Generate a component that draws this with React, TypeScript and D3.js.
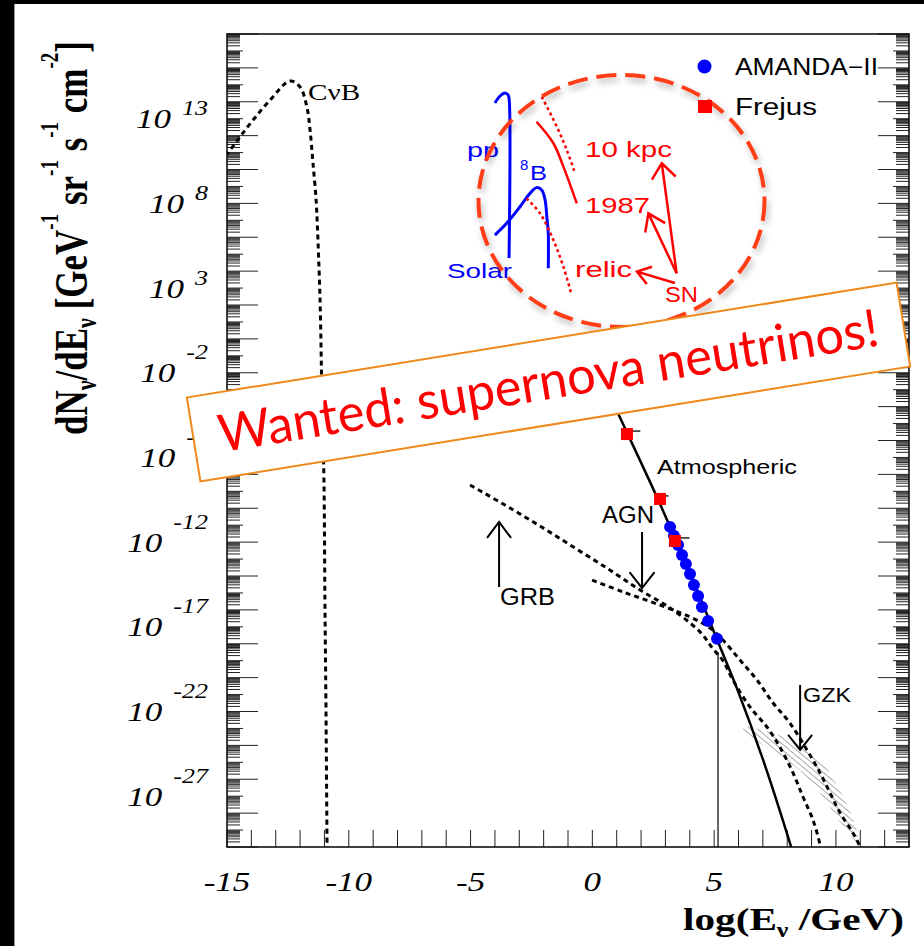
import React from 'react';
import * as d3 from 'd3';

const WIDTH = 924;
const HEIGHT = 946;
const PLOT = { left: 227, right: 909, top: 34, bottom: 847 };

const xDomain: [number, number] = [-15, 13];
const yExpDomain: [number, number] = [-30, 18];
const xTickLabels = [-15, -10, -5, 0, 5, 10];
const yLabelExponents = [13, 8, 3, -2, -7, -12, -17, -22, -27];

// Spectra as [log10(E/GeV), log10(dN/dE)]
const cnbSpectrum = [
  [-15.3, 10.4], [-14.96, 10.98], [-14.47, 11.92], [-13.93, 12.92], [-13.23, 14.1], [-12.41, 15.23],
  [-12.0, 14.87], [-11.72, 13.69], [-11.59, 12.33], [-11.47, 10.38], [-11.35, 8.38], [-11.3, 7.02],
  [-11.18, 2.3], [-11.1, -3.6], [-11.02, -8.33], [-10.98, -15.41], [-10.94, -21.3], [-10.89, -30.5],
];
const atmosphericSpectrum = [
  [0.4, -2.3], [1.05, -4.38], [2.65, -9.34], [4.13, -14.24], [5.16, -17.9], [5.94, -20.65],
  [7.01, -24.86], [8.11, -29.76], [8.2, -30.2],
];
const grbSpectrum = [
  [-5.02, -8.63], [-3.59, -9.81], [-2.15, -11.05], [-0.71, -12.35], [0.72, -13.65], [1.96, -14.83],
  [3.19, -15.89], [4.42, -17.3], [4.95, -18.3], [5.36, -19.0], [5.77, -20.14], [6.47, -21.73],
  [7.17, -22.92], [7.7, -24.1], [8.24, -25.63], [8.65, -27.05], [9.06, -28.41], [9.35, -29.88], [9.4, -30.3],
];
const agnSpectrum = [
  [-0.01, -14.24], [1.26, -14.94], [2.65, -15.65], [4.01, -16.42], [4.83, -17.07], [5.36, -17.78],
  [6.06, -18.96], [6.76, -20.14], [7.42, -21.5], [8.11, -22.68], [8.81, -24.27], [9.35, -25.63],
  [9.76, -26.81], [10.17, -27.99], [10.7, -29.17], [10.99, -30.0], [11.05, -30.3],
];
// [log10(E/GeV), lower log10 flux, upper log10 flux]
const gzkBand = [
  [6.2, -23.2, -22.86], [7.42, -24.39, -23.27], [8.5, -25.45, -23.98], [9.35, -26.81, -24.86],
  [10.1, -28.4, -26.5], [10.6, -29.3, -28.0], [10.9, -29.9, -29.2],
];
const amandaData = [
  [3.19, -11.1], [3.35, -11.63], [3.52, -12.17], [3.68, -12.76], [3.84, -13.29], [4.01, -13.88],
  [4.17, -14.53], [4.34, -15.18], [4.5, -15.83], [4.75, -16.65], [5.12, -17.71],
];
// [log10(E/GeV), log10 flux, upper energy error]
const frejusData = [
  [1.42, -5.62, 0.55], [2.78, -9.45, 0.35], [3.39, -11.93, 0.6],
];
const amandaEdge = { energy: 5.16, top: -18.5 };

// MeV-range sources shown in the highlighted region
const solarPP = [[-4.0, 13.93], [-3.79, 14.34], [-3.59, 14.52], [-3.46, 14.4], [-3.42, 14.2], [-3.42, 4.78]];
const solarB8 = [
  [-4.0, 6.13], [-3.52, 6.82], [-2.97, 7.8], [-2.56, 8.59], [-2.29, 8.93], [-2.08, 8.79],
  [-1.94, 8.2], [-1.87, 7.21], [-1.81, 6.23], [-1.81, 4.17],
];
const snRelic = [[-2.7, 8.3], [-2.15, 7.41], [-1.6, 5.84], [-1.19, 4.26], [-0.85, 2.59]];
const sn1987 = [[-2.29, 12.82], [-1.6, 11.55], [-1.19, 10.17], [-0.64, 8.0]];
const sn10kpc = [[-2.08, 14.3], [-1.46, 12.53], [-1.05, 11.15], [-0.71, 9.78]];

const SERIF = '"Liberation Serif", "DejaVu Serif", serif';
const SANS = '"Liberation Sans", Arial, sans-serif';
const RED = '#ff0000';
const BLUE = '#0000ff';

function arrow(x1: number, y1: number, x2: number, y2: number, len: number, half: number) {
  const dx = x2 - x1, dy = y2 - y1;
  const L = Math.hypot(dx, dy);
  const ux = dx / L, uy = dy / L;
  const nx = -uy, ny = ux;
  const bx = x2 - ux * len, by = y2 - uy * len;
  return `M${x1},${y1}L${x2},${y2}M${bx + nx * half},${by + ny * half}L${x2},${y2}L${bx - nx * half},${by - ny * half}`;
}

export default function App() {
  const x = d3.scaleLinear().domain(xDomain).range([PLOT.left, PLOT.right]);
  const yLog = d3.scaleLog().domain([10 ** yExpDomain[0], 10 ** yExpDomain[1]]).range([PLOT.bottom, PLOT.top]);
  const y = (e: number) => yLog(Math.pow(10, e));

  const smooth = d3.line<number[]>().x(d => x(d[0])).y(d => y(d[1])).curve(d3.curveCatmullRom.alpha(0.5));
  const band = d3.area<number[]>().x(d => x(d[0])).y0(d => y(d[1])).y1(d => y(d[2])).curve(d3.curveCatmullRom.alpha(0.5));

  // axis ticks
  let yTicksL = '';
  let yTicksR = '';
  for (let e = yExpDomain[0]; e <= yExpDomain[1]; e++) {
    for (let k = 1; k <= 9; k++) {
      const v = e + Math.log10(k);
      if (v > yExpDomain[1] + 1e-9) continue;
      const py = y(v);
      const len = k === 1 ? (e % 2 === 0 ? 31 : 16) : 13;
      yTicksL += `M${PLOT.left},${py}h${len}`;
      yTicksR += `M${PLOT.right},${py}h${-len}`;
    }
  }
  let xTicks = '';
  for (let v = xDomain[0]; v <= xDomain[1]; v++) {
    xTicks += `M${x(v)},${PLOT.bottom}v-17`;
  }

  const charW = (s: string, digit: number, minus: number) =>
    [...s].reduce((a, c) => a + (c === '-' ? minus : digit), 0);

  return (
    <svg width={WIDTH} height={HEIGHT} viewBox={`0 0 ${WIDTH} ${HEIGHT}`}
      style={{ position: 'absolute', left: 0, top: 0, background: '#fff' }}>
      <defs>
        <clipPath id="plotArea">
          <rect x={PLOT.left} y={PLOT.top} width={PLOT.right - PLOT.left} height={PLOT.bottom - PLOT.top} />
        </clipPath>
        <pattern id="gzkHatch" width={4.5} height={4.5} patternUnits="userSpaceOnUse" patternTransform="rotate(-50)">
          <line x1={0} y1={0} x2={0} y2={4.5} stroke="#8a8a8a" strokeWidth={1.4} />
        </pattern>
        <filter id="ringShadow" x="-20%" y="-20%" width="140%" height="140%">
          <feDropShadow dx={2} dy={4} stdDeviation={3} floodColor="#000" floodOpacity={0.3} />
        </filter>
      </defs>

      <rect x={0} y={0} width={WIDTH} height={HEIGHT} fill="#fff" />
      <rect x={0} y={0} width={WIDTH} height={4} fill="#000" />
      <rect x={0} y={0} width={14} height={HEIGHT} fill="#000" />
      <rect x={14} y={4} width={1} height={HEIGHT} fill="#999" />

      {/* axes */}
      <path d={yTicksL} stroke="#222" strokeWidth={1} fill="none" />
      <path d={yTicksR} stroke="#222" strokeWidth={1} fill="none" />
      <path d={xTicks} stroke="#222" strokeWidth={1} fill="none" />
      <rect x={PLOT.left} y={PLOT.top} width={PLOT.right - PLOT.left} height={PLOT.bottom - PLOT.top}
        fill="none" stroke="#111" strokeWidth={1.6} />

      {xTickLabels.map(v => {
        const s = String(v);
        return (
          <text key={v} x={x(v)} y={891} textAnchor="middle" fontFamily={SERIF} fontStyle="italic" fontSize={27}
            textLength={charW(s, 17.5, 11.7)} lengthAdjust="spacingAndGlyphs">{s}</text>
        );
      })}
      {yLabelExponents.map(e => {
        const ty = y(e);
        const s = String(e);
        const expW = charW(s, 13, 8.7);
        const expRight = 208;
        const raise = e > 0 ? 13 : 23;
        return (
          <g key={e} fontFamily={SERIF} fontStyle="italic">
            <text x={expRight - expW - 11} y={ty + 9.5} textAnchor="end" fontSize={27}
              textLength={35} lengthAdjust="spacingAndGlyphs">10</text>
            <text x={expRight} y={ty + 9.5 - raise} textAnchor="end" fontSize={20}
              textLength={expW} lengthAdjust="spacingAndGlyphs">{s}</text>
          </g>
        );
      })}

      {/* axis titles */}
      <text transform="translate(87,238) rotate(-90) scale(1,1.32)" textAnchor="middle" fontFamily={SERIF}
        fontWeight="bold" fontSize={35}>
        dN<tspan dy={7} fontSize={22}>ν</tspan><tspan dy={-7}>/dE</tspan><tspan dy={7} fontSize={22}>ν</tspan>
        <tspan dy={-7}> [GeV</tspan><tspan dy={-22} fontSize={19}>-1</tspan><tspan dy={22}> sr</tspan>
        <tspan dy={-22} fontSize={19}>-1</tspan><tspan dy={22}> s</tspan><tspan dy={-22} fontSize={19}>-1</tspan>
        <tspan dy={22}> cm</tspan><tspan dy={-22} fontSize={19}>-2</tspan><tspan dy={22}>]</tspan>
      </text>
      <text x={904} y={930} textAnchor="end" fontFamily={SERIF} fontWeight="bold" fontSize={32}
        textLength={221} lengthAdjust="spacingAndGlyphs">
        log(E<tspan dy={7} fontSize={20}>ν</tspan><tspan dy={-7}> /GeV)</tspan>
      </text>

      {/* spectra */}
      <g clipPath="url(#plotArea)" fill="none">
        <path d={band(gzkBand) ?? ''} fill="url(#gzkHatch)" stroke="none" />
        <path d={smooth(cnbSpectrum) ?? ''} stroke="#000" strokeWidth={3} strokeDasharray="5 4" />
        <path d={smooth(grbSpectrum) ?? ''} stroke="#000" strokeWidth={3} strokeDasharray="5 4" />
        <path d={smooth(agnSpectrum) ?? ''} stroke="#000" strokeWidth={3} strokeDasharray="5 4" />
        <path d={smooth(atmosphericSpectrum) ?? ''} stroke="#000" strokeWidth={2.5} />
        <line x1={x(amandaEdge.energy)} x2={x(amandaEdge.energy)} y1={y(amandaEdge.top)} y2={PLOT.bottom}
          stroke="#000" strokeWidth={1.2} />
      </g>

      {amandaData.map((d, i) => (
        <circle key={i} cx={x(d[0])} cy={y(d[1])} r={6} fill={BLUE} />
      ))}
      {frejusData.map((d, i) => (
        <g key={i}>
          <line x1={x(d[0])} x2={x(d[0] + d[2])} y1={y(d[1]) - 3} y2={y(d[1]) - 3} stroke="#000" strokeWidth={1.3} />
          <rect x={x(d[0]) - 6} y={y(d[1]) - 6} width={12} height={12} fill={RED} />
        </g>
      ))}

      {/* annotations */}
      <text x={x(-11.67)} y={y(14.1)} fontFamily={SERIF} fontSize={23} textLength={52} lengthAdjust="spacingAndGlyphs">CνB</text>
      <text x={x(2.65)} y={y(-7.98)} fontFamily={SANS} fontSize={21} textLength={140} lengthAdjust="spacingAndGlyphs">Atmospheric</text>
      <text x={x(0.4)} y={y(-10.87)} fontFamily={SANS} fontSize={23} textLength={52} lengthAdjust="spacingAndGlyphs">AGN</text>
      <text x={x(-3.79)} y={y(-15.71)} fontFamily={SANS} fontSize={23} textLength={55} lengthAdjust="spacingAndGlyphs">GRB</text>
      <text x={x(8.65)} y={y(-21.44)} fontFamily={SANS} fontSize={21} textLength={48} lengthAdjust="spacingAndGlyphs">GZK</text>
      <g stroke="#000" strokeWidth={2} fill="none">
        <path d={arrow(x(-3.83), y(-14.65), x(-3.83), y(-10.81), 16, 12)} />
        <path d={arrow(x(2.04), y(-11.4), x(2.04), y(-14.71), 16, 12.5)} />
        <path d={arrow(x(8.53), y(-20.44), x(8.53), y(-24.27), 15, 12)} />
      </g>

      {/* solar and supernova neutrinos */}
      <g fill="none">
        <path d={smooth(solarPP) ?? ''} stroke={BLUE} strokeWidth={3} />
        <path d={smooth(solarB8) ?? ''} stroke={BLUE} strokeWidth={3} />
        <path d={smooth(snRelic) ?? ''} stroke={RED} strokeWidth={2.5} strokeDasharray="3 3" />
        <path d={smooth(sn1987) ?? ''} stroke={RED} strokeWidth={2.5} />
        <path d={smooth(sn10kpc) ?? ''} stroke={RED} strokeWidth={2.5} strokeDasharray="3 3" />
      </g>
      <g fontFamily={SANS}>
        <text x={x(-5.15)} y={y(10.74)} fill={BLUE} fontSize={21} textLength={32} lengthAdjust="spacingAndGlyphs">pp</text>
        <text x={x(-2.97)} y={y(9.97)} fill={BLUE} fontSize={15}>8</text>
        <text x={x(-2.56)} y={y(9.38)} fill={BLUE} fontSize={21} textLength={17} lengthAdjust="spacingAndGlyphs">B</text>
        <text x={x(-5.97)} y={y(3.59)} fill={BLUE} fontSize={21} textLength={65} lengthAdjust="spacingAndGlyphs">Solar</text>
        <text x={x(-0.3)} y={y(10.74)} fill={RED} fontSize={22} textLength={87} lengthAdjust="spacingAndGlyphs">10 kpc</text>
        <text x={x(-0.3)} y={y(7.43)} fill={RED} fontSize={22} textLength={65} lengthAdjust="spacingAndGlyphs">1987</text>
        <text x={x(-0.71)} y={y(3.65)} fill={RED} fontSize={22} textLength={57} lengthAdjust="spacingAndGlyphs">relic</text>
        <text x={x(2.98)} y={y(2.18)} fill={RED} fontSize={22} textLength={33} lengthAdjust="spacingAndGlyphs">SN</text>
      </g>
      <g stroke={RED} strokeWidth={2.5} fill="none">
        <path d={arrow(x(3.46), y(3.87), x(2.85), y(10.37), 15, 12)} />
        <path d={arrow(x(3.46), y(3.87), x(2.3), y(7.41), 16, 11)} />
        <path d={arrow(x(3.39), y(3.3), x(1.83), y(3.97), 13, 9)} />
      </g>
      <ellipse cx={621.5} cy={201} rx={143} ry={126} fill="none" stroke="#ff3c14" strokeWidth={4}
        strokeDasharray="20 9" filter="url(#ringShadow)" />

      {/* legend */}
      <circle cx={704.5} cy={66.5} r={7} fill={BLUE} />
      <text x={735} y={75} fontFamily={SANS} fontSize={23} textLength={143} lengthAdjust="spacingAndGlyphs">AMANDA−II</text>
      <rect x={698} y={100} width={14} height={13} fill={RED} />
      <text x={735} y={115} fontFamily={SANS} fontSize={23} textLength={82} lengthAdjust="spacingAndGlyphs">Frejus</text>

      {/* banner */}
      <g transform="translate(548.5,382) rotate(-9.2)">
        <rect x={-359.5} y={-42.5} width={719} height={85} fill="#fff" stroke="#ee8a1c" strokeWidth={2} />
        <text x={-334} y={17} fontFamily="Lato, 'Open Sans', sans-serif" fontSize={52} fill={RED}
          textLength={668} lengthAdjust="spacingAndGlyphs">Wanted: supernova neutrinos!</text>
      </g>
    </svg>
  );
}
